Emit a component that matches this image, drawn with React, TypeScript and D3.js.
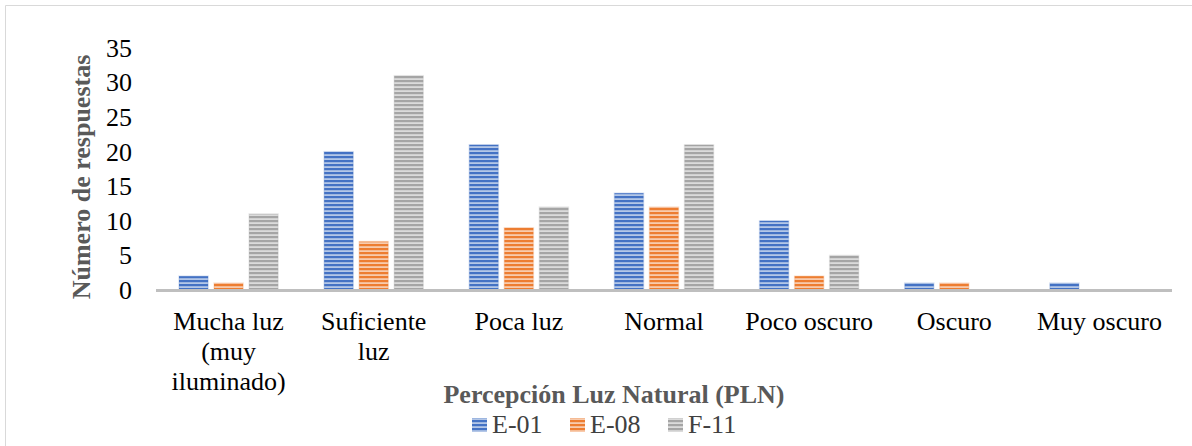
import React from "react";
import * as d3 from "d3";

const categories = [
  "Mucha luz\n(muy\niluminado)",
  "Suficiente\nluz",
  "Poca luz",
  "Normal",
  "Poco oscuro",
  "Oscuro",
  "Muy oscuro",
];
const seriesNames = ["E-01", "E-08", "F-11"];
const e01 = [2, 20, 21, 14, 10, 1, 1];
const e08 = [1, 7, 9, 12, 2, 1, 0];
const f11 = [11, 31, 12, 21, 5, 0, 0];
const yTicks = [0, 5, 10, 15, 20, 25, 30, 35];

const colors = ["#4472C4", "#ED7D31", "#A5A5A5"];
const lightColors = ["#b4c7e7", "#f8cbad", "#dbdbdb"];
const seriesValues = [e01, e08, f11];

const W = 1192;
const H = 446;
const FONT = "'Liberation Serif', 'Times New Roman', serif";

export default function App() {
  const x = d3.scaleBand<string>().domain(categories).range([156, 1172]).paddingInner(0).paddingOuter(0);
  const cw = x.bandwidth();
  const x1 = d3.scaleBand<string>().domain(seriesNames).range([23, cw - 23]).paddingInner(0.17).paddingOuter(0);
  const y = d3.scaleLinear().domain([0, 35]).range([290, 48]);

  const legendX = [472, 570, 668];

  return (
    <svg
      width={W}
      height={H}
      style={{ position: "absolute", left: 0, top: 0, background: "#fff" }}
      fontFamily={FONT}
    >
      <defs>
        {colors.map((c, i) => (
          <pattern key={i} id={`pat${i}`} patternUnits="userSpaceOnUse" width={8} height={4}>
            <rect x={0} y={0} width={8} height={4} fill={lightColors[i]} />
            <rect x={0} y={0} width={8} height={2.2} fill={c} />
          </pattern>
        ))}
      </defs>
      <rect x={0} y={0} width={W} height={H} fill="#fff" />
      <line x1={5.5} y1={5.5} x2={W} y2={5.5} stroke="#d9d9d9" strokeWidth={1} />
      <line x1={5.5} y1={5.5} x2={5.5} y2={H} stroke="#d9d9d9" strokeWidth={1} />

      {/* y tick labels */}
      {yTicks.map((t) => (
        <text key={t} x={132} y={y(t)} dy="0.34em" textAnchor="end" fontSize={26} fill="#000">
          {t}
        </text>
      ))}

      {/* bars */}
      {categories.map((cat, ci) => (
        <g key={cat} transform={`translate(${x(cat)},0)`}>
          {seriesNames.map((s, si) => {
            const v = seriesValues[si][ci];
            if (v <= 0) return null;
            return (
              <rect
                key={s}
                x={x1(s)}
                y={y(v)}
                width={x1.bandwidth()}
                height={y(0) - y(v)}
                fill={`url(#pat${si})`}
                stroke={colors[si]}
                strokeOpacity={0.2}
                strokeWidth={1.5}
              />
            );
          })}
        </g>
      ))}

      {/* x axis line */}
      <line x1={156} y1={y(0) + 0.5} x2={1172} y2={y(0) + 0.5} stroke="#bfbfbf" strokeWidth={3} />

      {/* category labels */}
      {categories.map((cat) => {
        const lines = cat.split("\n");
        const cx = (x(cat) as number) + cw / 2;
        return (
          <text key={cat} x={cx} y={330} textAnchor="middle" fontSize={26} fill="#000">
            {lines.map((l, i) => (
              <tspan key={i} x={cx} dy={i === 0 ? 0 : 30}>
                {l}
              </tspan>
            ))}
          </text>
        );
      })}

      {/* y title */}
      <text
        transform={`translate(90,177) rotate(-90)`}
        textAnchor="middle"
        fontSize={26}
        fontWeight="bold"
        fill="#595959"
      >
        Número de respuestas
      </text>

      {/* x title */}
      <text x={614} y={403} textAnchor="middle" fontSize={26} fontWeight="bold" fill="#595959">
        Percepción Luz Natural (PLN)
      </text>

      {/* legend */}
      {seriesNames.map((s, i) => (
        <g key={s}>
          <rect x={legendX[i]} y={418} width={15} height={14} fill={`url(#pat${i})`} />
          <text x={legendX[i] + 20} y={433} fontSize={26} fill="#404040">
            {s}
          </text>
        </g>
      ))}
    </svg>
  );
}
